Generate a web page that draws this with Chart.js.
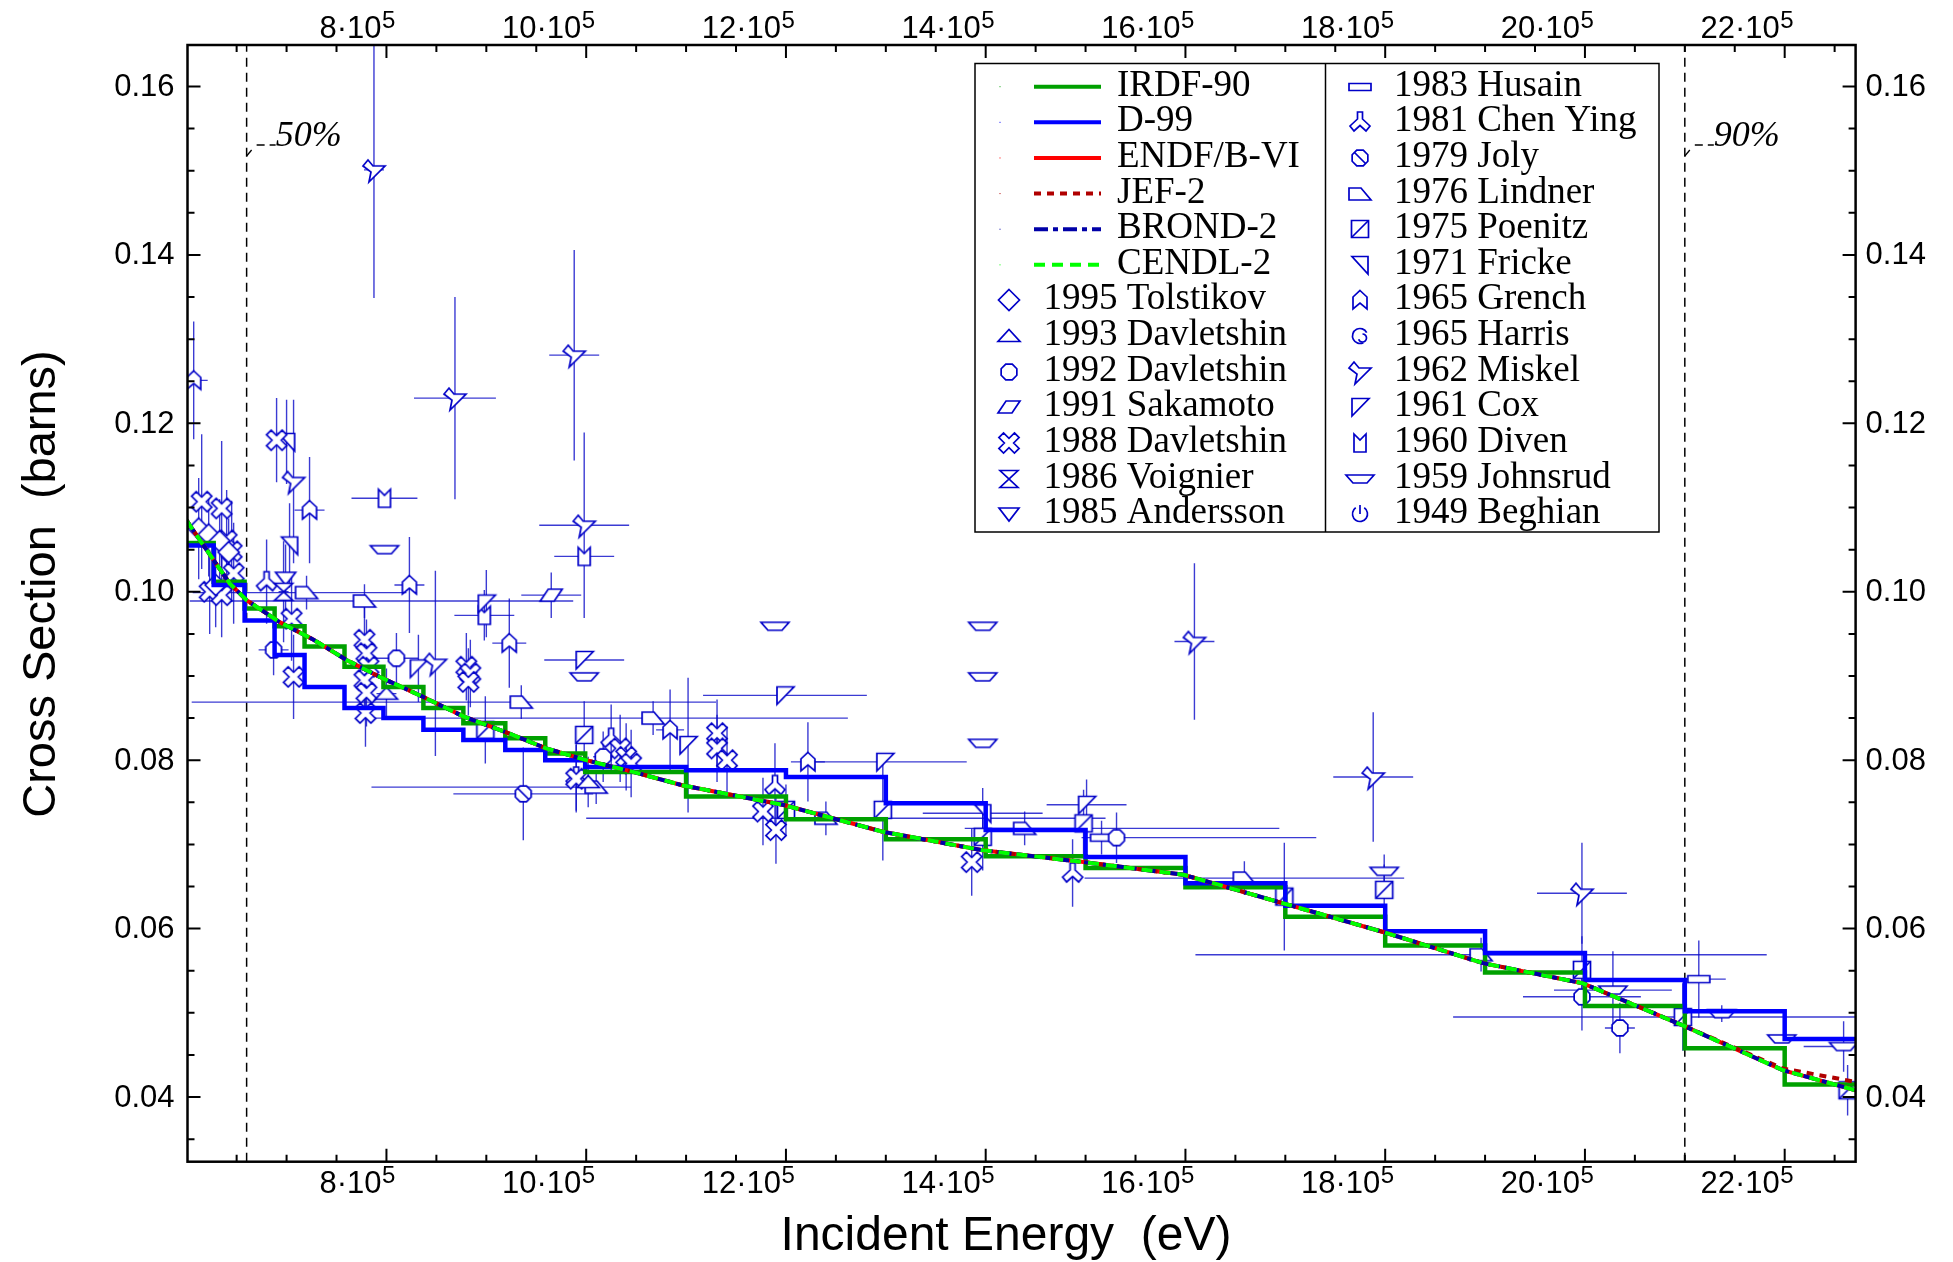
<!DOCTYPE html>
<html><head><meta charset="utf-8">
<script src="https://cdn.jsdelivr.net/npm/chart.js@4.4.1/dist/chart.umd.min.js"></script>
<style>html,body{margin:0;padding:0;background:#fff;overflow:hidden}#wrap{width:1953px;height:1262px}</style>
</head><body><div id="wrap"><canvas id="c" width="1953" height="1262"></canvas></div>
<script>
// ---------------- axes ----------------
const X_MIN = 6.008e5, X_MAX = 22.71e5;
const Y_MIN = 0.03232, Y_MAX = 0.16493;
const X_TICK_VALUES = [8e5, 10e5, 12e5, 14e5, 16e5, 18e5, 20e5, 22e5];
const X_TICK_MANTISSA = ['8', '10', '12', '14', '16', '18', '20', '22'];
const X_TICK_EXP = '5';
const Y_TICK_VALUES = [0.04, 0.06, 0.08, 0.10, 0.12, 0.14, 0.16];
const Y_TICK_LABELS = ['0.04', '0.06', '0.08', '0.10', '0.12', '0.14', '0.16'];
const X_TITLE = 'Incident Energy  (eV)';
const Y_TITLE = 'Cross Section  (barns)';
const MARK_E = [6.60e5, 21.0e5];
const MARK_LABELS = ['50%', '90%'];

// ---------------- evaluations ----------------
const GROUP_E = [6.0e5, 6.27e5, 6.58e5, 6.88e5, 7.18e5, 7.58e5, 7.97e5, 8.37e5, 8.77e5, 9.19e5, 9.59e5, 9.99e5,
  11e5, 12e5, 13e5, 14e5, 15e5, 16e5, 17e5, 18e5, 19e5, 20e5, 21e5, 22e5, 23e5];
const IRDF90 = [0.1058, 0.1012, 0.0980, 0.0959, 0.0935, 0.0911, 0.0887, 0.0862, 0.0844, 0.0826, 0.0808,
  0.0786, 0.0757, 0.0730, 0.0706, 0.0686, 0.0672, 0.0649, 0.0614, 0.0580, 0.0548, 0.0508, 0.0458, 0.0415];
const D99 = [0.1055, 0.1008, 0.0966, 0.0925, 0.0887, 0.0862, 0.0850, 0.0836, 0.0824, 0.0812, 0.0800,
  0.0792, 0.0788, 0.0780, 0.0749, 0.0717, 0.0685, 0.0654, 0.0627, 0.0597, 0.0571, 0.0539, 0.0502, 0.0469];
const SMOOTH_E = [6.0e5, 6.03e5, 6.43e5, 6.60e5, 6.93e5, 7.27e5, 7.60e5, 7.93e5, 8.37e5, 8.77e5, 9.20e5, 9.60e5,
  10.0e5, 10.44e5, 10.97e5, 11.97e5, 12.97e5, 13.97e5, 14.98e5, 15.98e5, 16.98e5, 17.98e5, 18.98e5,
  19.98e5, 20.98e5, 21.98e5, 22.71e5];
const ENDF_B6 = [0.1085, 0.1079, 0.1010, 0.0990, 0.0964, 0.0943, 0.0919, 0.0899, 0.0875, 0.0852, 0.0833, 0.0814,
  0.0800, 0.0787, 0.0770, 0.0747, 0.0715, 0.0693, 0.0679, 0.0664, 0.0630, 0.0596, 0.0559, 0.0535, 0.0485, 0.0432, 0.0408];
const JEF2 = [0.1085, 0.1079, 0.1010, 0.0990, 0.0964, 0.0943, 0.0919, 0.0899, 0.0875, 0.0852, 0.0833, 0.0814,
  0.0800, 0.0787, 0.0770, 0.0747, 0.0715, 0.0693, 0.0679, 0.0664, 0.0630, 0.0596, 0.0559, 0.0535, 0.0485, 0.0434, 0.0418];
const BROND2 = [0.1085, 0.1079, 0.1010, 0.0990, 0.0964, 0.0943, 0.0919, 0.0899, 0.0875, 0.0852, 0.0833, 0.0814,
  0.0800, 0.0787, 0.0770, 0.0747, 0.0715, 0.0693, 0.0679, 0.0664, 0.0630, 0.0596, 0.0559, 0.0535, 0.0485, 0.0432, 0.0408];
const CENDL2 = [0.1085, 0.1079, 0.1010, 0.0990, 0.0964, 0.0943, 0.0919, 0.0899, 0.0875, 0.0852, 0.0833, 0.0814,
  0.0800, 0.0787, 0.0770, 0.0747, 0.0715, 0.0693, 0.0679, 0.0664, 0.0630, 0.0596, 0.0559, 0.0535, 0.0485, 0.0432, 0.0408];

// ---------------- experiments: [E, sigma, dE-, dE+, dSigma] ----------------
const TOLSTIKOV_1995 = [[6.12e5,0.1075,0.03e5,0.03e5,0.006],[6.22e5,0.1068,0.03e5,0.03e5,0.005],[6.33e5,0.1060,0.03e5,0.03e5,0.005],[6.42e5,0.1047,0.03e5,0.03e5,0.004],[6.29e5,0.1008,0.03e5,0.03e5,0.005]];
const DAVLETSHIN_1993 = [[8.00e5,0.0879,0.1e5,0.1e5,0.003],[10.02e5,0.0774,0.1e5,0.1e5,0.003]];
const DAVLETSHIN_1992 = [[6.87e5,0.0931,0.15e5,0.15e5,0.003],[8.10e5,0.0921,0.22e5,0.22e5,0.003],[10.17e5,0.0804,0.1e5,0.1e5,0.003],[15.31e5,0.0708,0.2e5,2.0e5,0.003],[19.97e5,0.0519,0.59e5,0.59e5,0.004],[20.35e5,0.0482,0.15e5,0.15e5,0.003]];
const SAKAMOTO_1991 = [[9.65e5,0.0996,0.3e5,0.3e5,0.0027]];
const DAVLETSHIN_1988 = [[6.15e5,0.1107,0.03e5,0.03e5,0.008],[6.35e5,0.1099,0.03e5,0.03e5,0.008],[6.40e5,0.1061,0.03e5,0.03e5,0.006],[6.45e5,0.1048,0.03e5,0.03e5,0.006],[6.47e5,0.1022,0.03e5,0.03e5,0.006],[6.23e5,0.1000,0.03e5,0.03e5,0.005],[6.35e5,0.0996,0.03e5,0.03e5,0.005],[6.90e5,0.1180,0.03e5,0.03e5,0.005],[7.05e5,0.0968,0.03e5,0.03e5,0.005],[7.07e5,0.0899,0.03e5,0.03e5,0.005],[7.78e5,0.0943,0.03e5,0.03e5,0.004],[7.80e5,0.0927,0.03e5,0.03e5,0.004],[7.82e5,0.0911,0.03e5,0.03e5,0.004],[7.78e5,0.0895,0.03e5,0.03e5,0.004],[7.80e5,0.0880,0.03e5,0.03e5,0.004],[7.79e5,0.0856,0.03e5,0.03e5,0.004],[8.80e5,0.0911,0.03e5,0.03e5,0.004],[8.84e5,0.0903,0.03e5,0.03e5,0.004],[8.82e5,0.0893,0.03e5,0.03e5,0.004],[9.90e5,0.0778,0.03e5,0.03e5,0.004],[10.34e5,0.0814,0.03e5,0.03e5,0.004],[10.40e5,0.0804,0.03e5,0.03e5,0.004],[10.45e5,0.0796,0.03e5,0.03e5,0.004],[11.31e5,0.0832,0.03e5,0.03e5,0.004],[11.31e5,0.0814,0.03e5,0.03e5,0.004],[11.41e5,0.0800,0.03e5,0.03e5,0.004],[11.77e5,0.0739,0.03e5,0.03e5,0.004],[11.90e5,0.0717,0.03e5,0.03e5,0.004],[13.86e5,0.0679,0.03e5,0.03e5,0.004]];
const VOIGNIER_1986 = [[6.97e5,0.1000,0.05e5,0.05e5,0.006]];
const ANDERSSON_1985 = [[6.99e5,0.1016,0,0,0.004]];
const HUSAIN_1983 = [[15.16e5,0.0708,0.2e5,0.2e5,0.002],[21.14e5,0.0540,0.27e5,0.27e5,0.0046]];
const CHEN_YING_1981 = [[6.80e5,0.1012,0,0,0.005],[9.90e5,0.0780,0,0,0.004],[10.25e5,0.0826,0,0,0.004],[11.89e5,0.0770,0,0,0.005],[14.87e5,0.0666,0,0,0.004]];
const JOLY_1979 = [[9.37e5,0.0760,0.7e5,0.7e5,0.0055]];
const LINDNER_1976 = [[7.20e5,0.0999,1.14e5,1.0e5,0.002],[7.78e5,0.0989,1.75e5,2.09e5,0.002],[9.35e5,0.0869,3.3e5,1.95e5,0.002],[10.67e5,0.0850,2.82e5,1.95e5,0.002],[10.10e5,0.0768,2.25e5,0.35e5,0.002],[12.40e5,0.0731,2.4e5,2.8e5,0.002],[14.39e5,0.0719,0.6e5,2.55e5,0.002],[16.59e5,0.0660,1.6e5,1.6e5,0.002],[18.96e5,0.0569,2.86e5,2.86e5,0.002]];
const POENITZ_1975 = [[8.99e5,0.0836,0,0,0.004],[9.98e5,0.0830,0,0,0.004],[12.00e5,0.0741,0,0,0.003],[12.97e5,0.0741,0,0,0.006],[13.97e5,0.0709,0,0,0.004],[14.98e5,0.0725,0,0,0.004],[16.99e5,0.0638,0,0,0.0064],[17.99e5,0.0646,0,0,0.003],[19.97e5,0.0551,0,0,0.004],[20.98e5,0.0495,2.3e5,1.9e5,0.004],[22.63e5,0.0408,0,0,0.003]];
const FRICKE_1971 = [[7.00e5,0.1178,0,0,0.005],[7.03e5,0.1055,0,0,0.005],[13.97e5,0.0737,0.6e5,0.6e5,0.003]];
const GRENCH_1965 = [[6.07e5,0.1251,0.14e5,0.14e5,0.007],[7.23e5,0.1097,0.15e5,0.15e5,0.0063],[8.23e5,0.1008,0.15e5,0.15e5,0.0057],[9.23e5,0.0939,0.17e5,0.17e5,0.0053],[10.84e5,0.0836,0.14e5,0.14e5,0.0048],[12.22e5,0.0798,0.17e5,0.17e5,0.0047]];
const HARRIS_1965 = [];
const MISKEL_1962 = [[7.875e5,0.1501,0.1e5,0.1e5,0.0152],[8.686e5,0.1230,0.41e5,0.41e5,0.012],[9.88e5,0.1281,0.25e5,0.25e5,0.0125],[7.07e5,0.1131,0,0,0.0097],[8.49e5,0.0915,0,0,0.011],[9.98e5,0.1079,0.45e5,0.45e5,0.011],[16.09e5,0.0941,0.2e5,0.2e5,0.0093],[17.88e5,0.0780,0.4e5,0.4e5,0.0077],[19.97e5,0.0642,0.45e5,0.45e5,0.006]];
const COX_1961 = [[8.32e5,0.0909,0,0,0.004],[9.00e5,0.0986,0,0,0.004],[9.98e5,0.0919,0.4e5,0.4e5,0],[11.02e5,0.0818,0,0,0.008],[11.99e5,0.0877,0.82e5,0.82e5,0],[12.99e5,0.0798,0.82e5,0.82e5,0],[15.01e5,0.0747,0.4e5,0.4e5,0.003]];
const DIVEN_1960 = [[7.98e5,0.1111,0.33e5,0.33e5,0],[8.98e5,0.0972,0.3e5,0.3e5,0.003],[9.98e5,0.1042,0.3e5,0.3e5,0]];
const JOHNSRUD_1959 = [[7.98e5,0.1050,0,0,0],[9.98e5,0.0899,0,0,0],[11.89e5,0.0959,0,0,0],[13.97e5,0.0959,0,0,0],[13.97e5,0.0899,0,0,0],[13.97e5,0.0820,0,0,0],[17.99e5,0.0668,0,0,0.002],[20.28e5,0.0527,0.59e5,0.59e5,0.0046],[21.37e5,0.0499,0.1e5,0.1e5,0.001],[21.97e5,0.0469,0,0,0],[22.59e5,0.0460,0.4e5,0.4e5,0.003]];
const BEGHIAN_1949 = [];

// ---------------- marker shapes ----------------
const MCOL = '#0000c8';
function poly(g, p) { g.beginPath(); g.moveTo(p[0][0], p[0][1]); for (let i = 1; i < p.length; i++) g.lineTo(p[i][0], p[i][1]); g.closePath(); g.fill(); g.stroke(); }
function octo(g, r) { const p = []; for (let i = 0; i < 8; i++) { const a = Math.PI / 8 + i * Math.PI / 4; p.push([r * Math.cos(a), r * Math.sin(a)]); } poly(g, p); }
const SHAPES = {
  diamond: g => poly(g, [[0,-10.5],[10.5,0],[0,10.5],[-10.5,0]]),
  triUp: g => poly(g, [[-11,5.5],[11,5.5],[0,-6.5]]),
  octagon: g => octo(g, 8.5),
  parallelogram: g => poly(g, [[-11,6],[3,6],[11,-6],[-3,-6]]),
  fatX: g => { const a = 3.3, L = 11; const p = [[-a,-L],[a,-L],[a,-a],[L,-a],[L,a],[a,a],[a,L],[-a,L],[-a,a],[-L,a],[-L,-a],[-a,-a]];
    const c = Math.SQRT1_2; poly(g, p.map(([x,y]) => [c*x - c*y, c*x + c*y])); },
  hourglass: g => poly(g, [[-9,-8.5],[9,-8.5],[-9,8.5],[9,8.5]]),
  triDown: g => poly(g, [[-10,-6],[10,-6],[0,7]]),
  rect: g => poly(g, [[-11,-3.5],[11,-3.5],[11,3.5],[-11,3.5]]),
  chenYing: g => poly(g, [[-2.5,-10],[2.5,-10],[2.5,-3],[10,4],[6,9],[0,3.5],[-6,9],[-10,4],[-2.5,-3]]),
  joly: g => { octo(g, 8.5); g.beginPath(); g.moveTo(-5.5,-5.5); g.lineTo(5.5,5.5); g.stroke(); },
  lindner: g => poly(g, [[-11,-6],[1,-6],[11,6],[-11,6]]),
  poenitz: g => { poly(g, [[-8.5,-8.5],[8.5,-8.5],[8.5,8.5],[-8.5,8.5]]); g.beginPath(); g.moveTo(-8.5,8.5); g.lineTo(8.5,-8.5); g.stroke(); },
  fricke: g => poly(g, [[-8,-8.5],[8,-8.5],[8,9]]),
  grench: g => poly(g, [[0,-9.5],[7,-3],[7,9],[0,3],[-7,9],[-7,-3]]),
  harris: g => { g.beginPath(); g.arc(0,0,7.5,0.35*Math.PI,1.85*Math.PI); g.fill(); g.stroke(); g.beginPath(); g.arc(2.5,2,4,-0.5*Math.PI,0.9*Math.PI); g.stroke(); },
  miskel: g => poly(g, [[-11,-4],[-6,-10],[-1,-4],[11,-4],[-5,12],[-3,2]]),
  cox: g => poly(g, [[-8,-8.5],[9,-8.5],[-8,9]]),
  diven: g => poly(g, [[-6,-9],[0,-3],[6,-9],[6,9],[-6,9]]),
  johnsrud: g => poly(g, [[-14,-4],[14,-4],[7,4],[-7,4]]),
  beghian: g => { g.beginPath(); g.arc(0,0,7.5,-0.5*Math.PI+0.6,1.5*Math.PI-0.6); g.fill(); g.stroke(); g.beginPath(); g.moveTo(0,-9); g.lineTo(0,0); g.stroke(); }
};
function makeMarker(shape, s) {
  const c = document.createElement('canvas');
  const n = Math.ceil(38 * s / 2) * 2; c.width = n; c.height = n;
  const g = c.getContext('2d');
  g.translate(n / 2, n / 2); g.scale(s, s);
  g.lineWidth = 1.7 / s; g.strokeStyle = MCOL; g.fillStyle = '#fff'; g.lineJoin = 'miter';
  SHAPES[shape](g);
  return c;
}

// ---------------- series definitions ----------------
const EVALS = [
  { label: 'IRDF-90', color: '#00a000', dash: [], width: 4.5, row: 0 },
  { label: 'D-99', color: '#0000ff', dash: [], width: 4.5, row: 1 },
  { label: 'ENDF/B-VI', color: '#ff0000', dash: [], width: 4, row: 2 },
  { label: 'JEF-2', color: '#b00000', dash: [7, 6], width: 4, row: 3 },
  { label: 'BROND-2', color: '#0000a8', dash: [14, 5, 5, 5], width: 4, row: 4 },
  { label: 'CENDL-2', color: '#00ff00', dash: [11, 7], width: 4, row: 5 }
];
const EXPS = [
  { label: '1995 Tolstikov', shape: 'diamond', data: TOLSTIKOV_1995, col: 0, row: 6 },
  { label: '1993 Davletshin', shape: 'triUp', data: DAVLETSHIN_1993, col: 0, row: 7 },
  { label: '1992 Davletshin', shape: 'octagon', data: DAVLETSHIN_1992, col: 0, row: 8 },
  { label: '1991 Sakamoto', shape: 'parallelogram', data: SAKAMOTO_1991, col: 0, row: 9 },
  { label: '1988 Davletshin', shape: 'fatX', data: DAVLETSHIN_1988, col: 0, row: 10 },
  { label: '1986 Voignier', shape: 'hourglass', data: VOIGNIER_1986, col: 0, row: 11 },
  { label: '1985 Andersson', shape: 'triDown', data: ANDERSSON_1985, col: 0, row: 12 },
  { label: '1983 Husain', shape: 'rect', data: HUSAIN_1983, col: 1, row: 0 },
  { label: '1981 Chen Ying', shape: 'chenYing', data: CHEN_YING_1981, col: 1, row: 1 },
  { label: '1979 Joly', shape: 'joly', data: JOLY_1979, col: 1, row: 2 },
  { label: '1976 Lindner', shape: 'lindner', data: LINDNER_1976, col: 1, row: 3 },
  { label: '1975 Poenitz', shape: 'poenitz', data: POENITZ_1975, col: 1, row: 4 },
  { label: '1971 Fricke', shape: 'fricke', data: FRICKE_1971, col: 1, row: 5 },
  { label: '1965 Grench', shape: 'grench', data: GRENCH_1965, col: 1, row: 6 },
  { label: '1965 Harris', shape: 'harris', data: HARRIS_1965, col: 1, row: 7 },
  { label: '1962 Miskel', shape: 'miskel', data: MISKEL_1962, col: 1, row: 8 },
  { label: '1961 Cox', shape: 'cox', data: COX_1961, col: 1, row: 9 },
  { label: '1960 Diven', shape: 'diven', data: DIVEN_1960, col: 1, row: 10 },
  { label: '1959 Johnsrud', shape: 'johnsrud', data: JOHNSRUD_1959, col: 1, row: 11 },
  { label: '1949 Beghian', shape: 'beghian', data: BEGHIAN_1949, col: 1, row: 12 }
];

function stepPts(edges, vals) { const p = vals.map((v, i) => ({ x: edges[i], y: v })); p.push({ x: edges[edges.length - 1], y: vals[vals.length - 1] }); return p; }
function curvePts(es, ss) { return es.map((e, i) => ({ x: e, y: ss[i] })); }
function expPts(arr) { return arr.map(r => ({ x: r[0], y: r[1], xl: r[2] || 0, xh: r[3] || 0, ye: r[4] || 0 })); }

const evalData = {
  'IRDF-90': stepPts(GROUP_E, IRDF90), 'D-99': stepPts(GROUP_E, D99),
  'ENDF/B-VI': curvePts(SMOOTH_E, ENDF_B6), 'JEF-2': curvePts(SMOOTH_E, JEF2),
  'BROND-2': curvePts(SMOOTH_E, BROND2), 'CENDL-2': curvePts(SMOOTH_E, CENDL2)
};
const evalOrder = { 'CENDL-2': 0, 'BROND-2': 1, 'JEF-2': 2, 'ENDF/B-VI': 3, 'D-99': 4, 'IRDF-90': 5 };

const datasets = [];
EVALS.forEach(e => datasets.push({
  label: e.label, data: evalData[e.label], showLine: true, stepped: (e.label === 'IRDF-90' || e.label === 'D-99') ? 'before' : false,
  borderColor: e.color, backgroundColor: e.color, borderWidth: e.width, borderDash: e.dash, pointRadius: 0,
  tension: 0, order: evalOrder[e.label], borderCapStyle: 'butt', borderJoinStyle: 'miter'
}));
MARK_E.forEach((m, i) => datasets.push({
  label: 'mark' + i, data: [{ x: m, y: Y_MIN }, { x: m, y: Y_MAX }], showLine: true, borderColor: '#000',
  borderWidth: 1.5, borderDash: [9, 6], pointRadius: 0, order: 6
}));
EXPS.forEach((s, i) => {
  s.marker = makeMarker(s.shape, 1);
  s.legendMarker = makeMarker(s.shape, 1);
  datasets.push({ label: s.label, data: expPts(s.data), showLine: false, pointStyle: s.marker, pointRadius: 10,
    borderColor: MCOL, backgroundColor: '#fff', order: 10 + i, isExp: true });
});

// ---------------- plugin: error bars, frame, labels, legend ----------------
const SANS = '"Liberation Sans", Arial, Helvetica, sans-serif';
const SERIF = '"Liberation Serif", "Times New Roman", serif';
const decor = {
  id: 'decor',
  beforeDatasetsDraw(chart) {
    const { ctx, chartArea: a, scales: { x, y } } = chart;
    ctx.save();
    ctx.beginPath(); ctx.rect(a.left, a.top, a.right - a.left, a.bottom - a.top); ctx.clip();
    ctx.strokeStyle = 'rgba(10,10,200,0.8)'; ctx.lineWidth = 1.4;
    chart.data.datasets.forEach(ds => {
      if (!ds.isExp) return;
      ds.data.forEach(p => {
        const px = x.getPixelForValue(p.x), py = y.getPixelForValue(p.y);
        ctx.beginPath();
        if (p.xl || p.xh) { ctx.moveTo(x.getPixelForValue(p.x - p.xl), py); ctx.lineTo(x.getPixelForValue(p.x + p.xh), py); }
        if (p.ye) { ctx.moveTo(px, y.getPixelForValue(p.y - p.ye)); ctx.lineTo(px, y.getPixelForValue(p.y + p.ye)); }
        ctx.stroke();
      });
    });
    ctx.restore();
  },
  afterDatasetsDraw(chart) {
    const { ctx, chartArea: a, scales: { x, y } } = chart;
    ctx.save();
    // ticks
    ctx.strokeStyle = '#000'; ctx.lineWidth = 2;
    ctx.beginPath();
    for (let v = Math.ceil(X_MIN / 0.5e5) * 0.5e5; v <= X_MAX + 1; v += 0.5e5) {
      const p = x.getPixelForValue(v);
      const major = Math.abs(v / 2e5 - Math.round(v / 2e5)) < 1e-6;
      const L = major ? 13 : 7;
      ctx.moveTo(p, a.bottom); ctx.lineTo(p, a.bottom - L);
      ctx.moveTo(p, a.top); ctx.lineTo(p, a.top + L);
    }
    for (let k = Math.ceil(Y_MIN / 0.005); k * 0.005 <= Y_MAX; k++) {
      const v = k * 0.005;
      const p = y.getPixelForValue(v);
      const major = k % 4 === 0;
      const L = major ? 13 : 7;
      ctx.moveTo(a.left, p); ctx.lineTo(a.left + L, p);
      ctx.moveTo(a.right, p); ctx.lineTo(a.right - L, p);
    }
    ctx.stroke();
    // frame
    ctx.lineWidth = 2.5;
    ctx.strokeRect(a.left, a.top, a.right - a.left, a.bottom - a.top);
    // x tick labels (bottom and top)
    ctx.fillStyle = '#000';
    X_TICK_VALUES.forEach((v, i) => {
      const p = x.getPixelForValue(v);
      [[a.bottom + 31.5, 10], [37.5, 10]].forEach(([base, rise]) => {
        ctx.font = '31px ' + SANS; ctx.textAlign = 'right'; ctx.textBaseline = 'alphabetic';
        ctx.fillText(X_TICK_MANTISSA[i] + '\u00B710', p - 5, base);
        ctx.font = '24px ' + SANS; ctx.textAlign = 'left';
        ctx.fillText(X_TICK_EXP, p - 4.5, base - rise);
      });
    });
    // y tick labels (left and right)
    ctx.font = '31px ' + SANS; ctx.textBaseline = 'middle';
    Y_TICK_VALUES.forEach((v, i) => {
      const p = y.getPixelForValue(v);
      ctx.textAlign = 'right'; ctx.fillText(Y_TICK_LABELS[i], a.left - 13, p + 1);
      ctx.textAlign = 'left'; ctx.fillText(Y_TICK_LABELS[i], a.right + 10, p + 1);
    });
    // axis titles
    ctx.font = '48px ' + SANS; ctx.textAlign = 'center'; ctx.textBaseline = 'alphabetic';
    ctx.fillText(X_TITLE, 1006, 1250);
    ctx.save(); ctx.translate(55, 584); ctx.rotate(-Math.PI / 2);
    ctx.font = '47px ' + SANS;
    ctx.fillText(Y_TITLE, 0, 0); ctx.restore();
    // mark labels
    MARK_E.forEach((m, i) => {
      const p = x.getPixelForValue(m);
      ctx.strokeStyle = '#000'; ctx.lineWidth = 1.3; ctx.setLineDash([]);
      ctx.beginPath(); ctx.moveTo(p, 156); ctx.lineTo(p + 5, 150); ctx.stroke();
      ctx.beginPath(); ctx.moveTo(p + 10, 145); ctx.lineTo(p + 18, 145); ctx.moveTo(p + 23, 145); ctx.lineTo(p + 29, 145); ctx.stroke();
      ctx.font = 'italic 36px ' + SERIF; ctx.textAlign = 'left'; ctx.textBaseline = 'alphabetic';
      ctx.fillText(MARK_LABELS[i], p + 29, 146);
    });
    // legend
    const LX0 = 975, LY0 = 63.5, LX1 = 1659, LY1 = 532, DIV = 1325.5, B0 = 95.7, DY = 35.63;
    ctx.fillStyle = '#fff'; ctx.fillRect(LX0, LY0, LX1 - LX0, LY1 - LY0);
    ctx.strokeStyle = '#000'; ctx.lineWidth = 1.5;
    ctx.strokeRect(LX0, LY0, LX1 - LX0, LY1 - LY0);
    ctx.beginPath(); ctx.moveTo(DIV, LY0); ctx.lineTo(DIV, LY1); ctx.stroke();
    ctx.font = '37px ' + SERIF; ctx.fillStyle = '#000'; ctx.textAlign = 'left'; ctx.textBaseline = 'alphabetic';
    EVALS.forEach(e => {
      const b = B0 + DY * e.row, cy = b - 9;
      ctx.save(); ctx.strokeStyle = e.color; ctx.lineWidth = 4; ctx.setLineDash(e.dash); ctx.lineCap = 'butt';
      ctx.beginPath(); ctx.moveTo(1034, cy); ctx.lineTo(1101, cy); ctx.stroke(); ctx.restore();
      ctx.fillStyle = e.color; ctx.fillRect(999.5, cy - 0.5, 1, 1);
      ctx.fillStyle = '#000'; ctx.fillText(e.label, 1117, b);
    });
    EXPS.forEach(s => {
      const b = B0 + DY * s.row, cy = b - 9;
      const mx = s.col === 0 ? 1009 : 1360, tx = s.col === 0 ? 1043.5 : 1394;
      const m = s.legendMarker;
      ctx.drawImage(m, Math.round(mx - m.width / 2), Math.round(cy - m.height / 2));
      ctx.fillText(s.label, tx, b);
    });
    ctx.restore();
  }
};

new Chart(document.getElementById('c').getContext('2d'), {
  type: 'scatter',
  data: { datasets },
  options: {
    responsive: false, animation: false, events: [], devicePixelRatio: 1,
    layout: { padding: { left: 187.5, right: 1953 - 1855.6, top: 45, bottom: 1262 - 1161.7 } },
    scales: {
      x: { type: 'linear', min: X_MIN, max: X_MAX, display: false },
      y: { type: 'linear', min: Y_MIN, max: Y_MAX, display: false }
    },
    plugins: { legend: { display: false }, tooltip: { enabled: false }, title: { display: false } }
  },
  plugins: [decor]
});
</script>
</body></html>
